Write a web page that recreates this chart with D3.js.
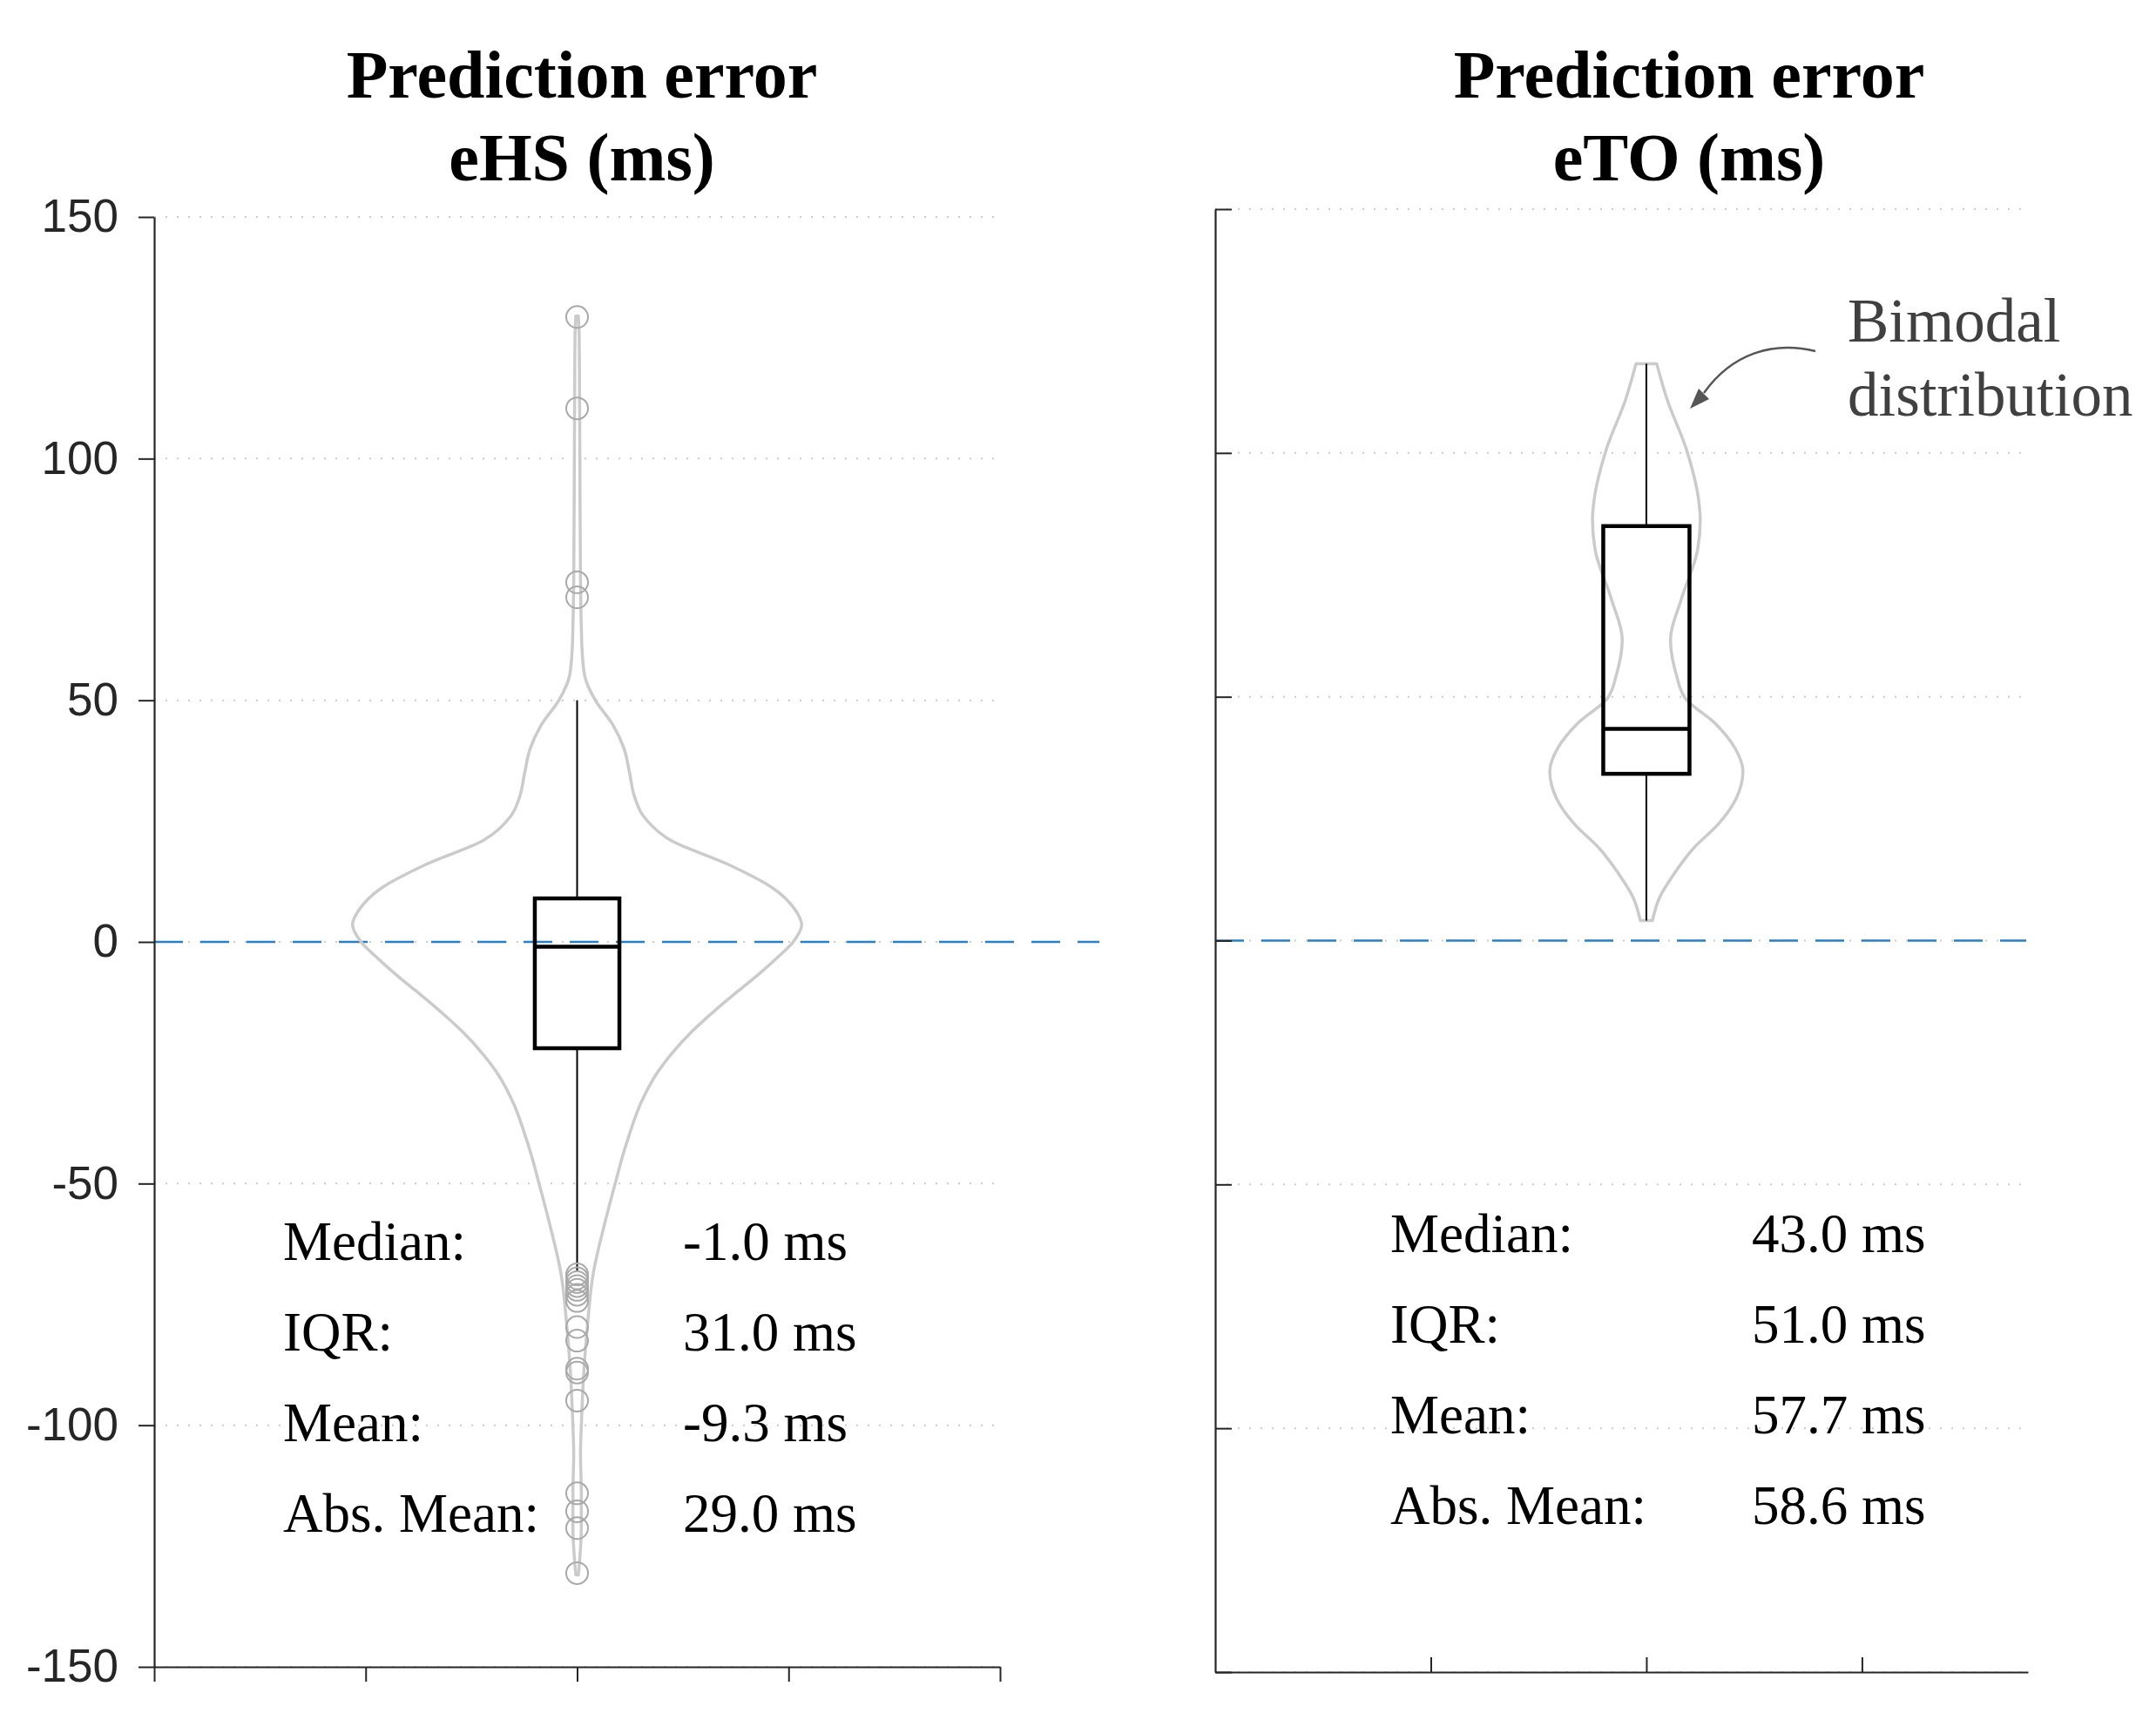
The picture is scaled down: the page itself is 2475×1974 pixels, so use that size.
<!DOCTYPE html>
<html>
<head>
<meta charset="utf-8">
<script src="https://cdn.jsdelivr.net/npm/d3@7"></script>
<style>
  html, body { margin: 0; padding: 0; background: #fff; }
  svg { display: block; }
</style>
</head>
<body>
<svg id="chart" width="2475" height="1974"></svg>
<script>
// ---------------- DATA ----------------
const yTickValues = [-150, -100, -50, 0, 50, 100, 150];
const yTickLabels = ["-150", "-100", "-50", "0", "50", "100", "150"];
const titleLines1 = ["Prediction error", "eHS (ms)"];
const titleLines2 = ["Prediction error", "eTO (ms)"];
const statLabels = ["Median:", "IQR:", "Mean:", "Abs. Mean:"];
const statValuesHS = ["-1.0 ms", "31.0 ms", "-9.3 ms", "29.0 ms"];
const statValuesTO = ["43.0 ms", "51.0 ms", "57.7 ms", "58.6 ms"];
const annotationLines = ["Bimodal", "distribution"];

// box stats: [lower whisker, Q1, median, Q3, upper whisker]
const boxHS = [-68, -22, -1, 9, 50];
const boxTO = [4.1, 34.2, 43.4, 85, 118.3];

// outliers (eHS)
const outliersHS = [129.3, 110.4, 74.4, 71.3,
  -68.8, -69.6, -70.4, -71.2, -72.0, -73.0, -74.3,
  -79.7, -82.5, -88.3, -89.1, -94.9, -114.1, -117.8, -121.3, -130.6];

// violin outlines: value (top to bottom) and half-width (in x-axis units)
const violinHSValue = [129.5, 125, 110, 90, 75, 65, 60, 55, 50, 45, 40, 35, 30, 26, 21, 16, 11, 6.7, 3.6, 0,
  -3.5, -7, -10, -13.5, -18.5, -23.5, -27, -33.5, -40, -43.6, -50, -58.7, -68.7, -78.8, -88.8, -100, -106, -114, -121, -128, -131];
const violinHSWidth = [0.003, 0.005, 0.006, 0.007, 0.008, 0.010, 0.012, 0.018, 0.043, 0.084, 0.111, 0.124, 0.136, 0.157, 0.222, 0.358, 0.465, 0.515, 0.531, 0.511,
  0.470, 0.425, 0.383, 0.335, 0.272, 0.220, 0.190, 0.150, 0.123, 0.110, 0.090, 0.064, 0.038, 0.025, 0.016, 0.010, 0.008, 0.010, 0.010, 0.006, 0.003];

const violinTOValue = [118.3, 111, 100.7, 90.5, 86.4, 80.2, 70, 61.8, 54.7, 49.6, 44.5, 39.4, 34.7, 29.1, 24, 18.9, 13.8, 8.7, 4.1];
const violinTOWidth = [0.024, 0.048, 0.093, 0.121, 0.125, 0.119, 0.081, 0.056, 0.069, 0.091, 0.160, 0.206, 0.224, 0.208, 0.168, 0.109, 0.065, 0.030, 0.014];

// ---------------- LAYOUT ----------------
const svg = d3.select("#chart");
const axisColor = "#262626";
const serif = "'Liberation Serif', 'Times New Roman', serif";
const sans = "'Liberation Sans', Arial, Helvetica, sans-serif";

const panels = [
  { x: d3.scaleLinear().domain([0, 2]).range([177, 1148]),
    y: d3.scaleLinear().domain([-150, 150]).range([1913, 249]),
    xTicks: [0, 0.5, 1, 1.5, 2], labels: true, inward: false,
    zeroEnd: 1262, titleX: 668,
    title: titleLines1, box: boxHS, vVal: violinHSValue, vW: violinHSWidth,
    outliers: outliersHS, stats: statValuesHS, statX: [325, 784], statY0: 1446 },
  { x: d3.scaleLinear().domain([0, 1.885]).range([1395, 2328]),
    y: d3.scaleLinear().domain([-150, 150]).range([1919, 240]),
    xTicks: [0.5, 1, 1.5], labels: false, inward: true,
    zeroEnd: 2326, titleX: 1939,
    title: titleLines2, box: boxTO, vVal: violinTOValue, vW: violinTOWidth,
    outliers: [], stats: statValuesTO, statX: [1596, 2011], statY0: 1437 }
];

panels.forEach((p) => {
  const g = svg.append("g");
  const [x0, x1] = p.x.range();

  // grid lines (dotted)
  g.append("g").selectAll("line").data(yTickValues).join("line")
    .attr("x1", x0).attr("x2", x1)
    .attr("y1", d => p.y(d)).attr("y2", d => p.y(d))
    .attr("stroke", "#cccccc").attr("stroke-width", 2)
    .attr("stroke-dasharray", "2,11");

  // zero reference line
  g.append("line")
    .attr("x1", x0).attr("x2", p.zeroEnd)
    .attr("y1", p.y(0)).attr("y2", p.y(0))
    .attr("stroke", "#2a80c4").attr("stroke-width", 2.6)
    .attr("stroke-dasharray", "33,20");

  // axes
  const yAxis = d3.axisLeft(p.y).tickValues(yTickValues)
    .tickSize(p.inward ? -19 : 18).tickSizeOuter(0).tickPadding(23)
    .tickFormat((d, i) => p.labels ? yTickLabels[i] : "");
  const yG = g.append("g").attr("transform", `translate(${x0},0)`).call(yAxis);
  yG.select(".domain").attr("stroke", axisColor).attr("stroke-width", 2.2);
  yG.selectAll(".tick line").attr("stroke", axisColor).attr("stroke-width", 2);
  yG.selectAll(".tick text").attr("fill", axisColor)
    .style("font-family", sans).style("font-size", "53px");

  const xAxis = d3.axisBottom(p.x).tickValues(p.xTicks)
    .tickSize(p.inward ? -17 : 17).tickSizeOuter(0).tickFormat(() => "");
  const xG = g.append("g").attr("transform", `translate(0,${p.y.range()[0]})`).call(xAxis);
  xG.select(".domain").attr("stroke", axisColor).attr("stroke-width", 2.2);
  xG.selectAll(".tick line").attr("stroke", axisColor).attr("stroke-width", 2);

  // violin outline: two monotone sides joined by flat ends
  const cx = 1;
  const right = p.vVal.map((v, i) => [cx + p.vW[i], v]);           // top -> bottom
  const left = p.vVal.map((v, i) => [cx - p.vW[i], v]).reverse();  // bottom -> top
  const side = d3.line().x(d => p.x(d[0])).y(d => p.y(d[1])).curve(d3.curveMonotoneY);
  const dPath = side(right) + side(left).replace(/^M/, "L") + "Z";
  g.append("path").attr("d", dPath)
    .attr("fill", "none").attr("stroke", "#cbcbcb").attr("stroke-width", 3.5)
    .attr("stroke-linejoin", "round");

  // whiskers
  const [wLo, q1, med, q3, wHi] = p.box;
  g.append("line").attr("x1", p.x(cx)).attr("x2", p.x(cx))
    .attr("y1", p.y(wHi)).attr("y2", p.y(q3))
    .attr("stroke", "#000").attr("stroke-width", 2);
  g.append("line").attr("x1", p.x(cx)).attr("x2", p.x(cx))
    .attr("y1", p.y(q1)).attr("y2", p.y(wLo))
    .attr("stroke", "#000").attr("stroke-width", 2);

  // box
  const bw = 0.1;
  g.append("rect")
    .attr("x", p.x(cx - bw)).attr("width", p.x(cx + bw) - p.x(cx - bw))
    .attr("y", p.y(q3)).attr("height", p.y(q1) - p.y(q3))
    .attr("fill", "none").attr("stroke", "#000").attr("stroke-width", 4.5);
  g.append("line").attr("x1", p.x(cx - bw)).attr("x2", p.x(cx + bw))
    .attr("y1", p.y(med)).attr("y2", p.y(med))
    .attr("stroke", "#000").attr("stroke-width", 4.5);

  // outliers
  g.append("g").selectAll("circle").data(p.outliers).join("circle")
    .attr("cx", p.x(cx)).attr("cy", d => p.y(d)).attr("r", 12.5)
    .attr("fill", "none").attr("stroke", "#a9a9a9").attr("stroke-width", 2);

  // title
  const t = g.append("text").attr("text-anchor", "middle")
    .style("font-family", serif).style("font-weight", "bold").style("font-size", "78px")
    .attr("fill", "#000");
  t.selectAll("tspan").data(p.title).join("tspan")
    .attr("x", p.titleX).attr("y", (d, i) => 112 + i * 95).text(d => d);

  // stats text
  const st = g.append("g").style("font-family", serif).style("font-size", "63px").attr("fill", "#000");
  st.selectAll("text.lab").data(statLabels).join("text").attr("class", "lab")
    .attr("x", p.statX[0]).attr("y", (d, i) => p.statY0 + i * 104).text(d => d);
  st.selectAll("text.val").data(p.stats).join("text").attr("class", "val")
    .attr("x", p.statX[1]).attr("y", (d, i) => p.statY0 + i * 104).text(d => d);
});

// annotation "Bimodal distribution" with curved arrow
const ann = svg.append("g");
ann.append("text").style("font-family", serif).style("font-size", "71px").attr("fill", "#404040")
  .selectAll("tspan").data(annotationLines).join("tspan")
  .attr("x", 2121).attr("y", (d, i) => 392 + i * 85).text(d => d);
ann.append("path")
  .attr("d", "M2084,403 C2035,391 1988,406 1956,451")
  .attr("fill", "none").attr("stroke", "#555").attr("stroke-width", 2.5);
ann.append("path")
  .attr("d", "M1940,469 L1962,458 L1950,446 Z")
  .attr("fill", "#555");
</script>
</body>
</html>
